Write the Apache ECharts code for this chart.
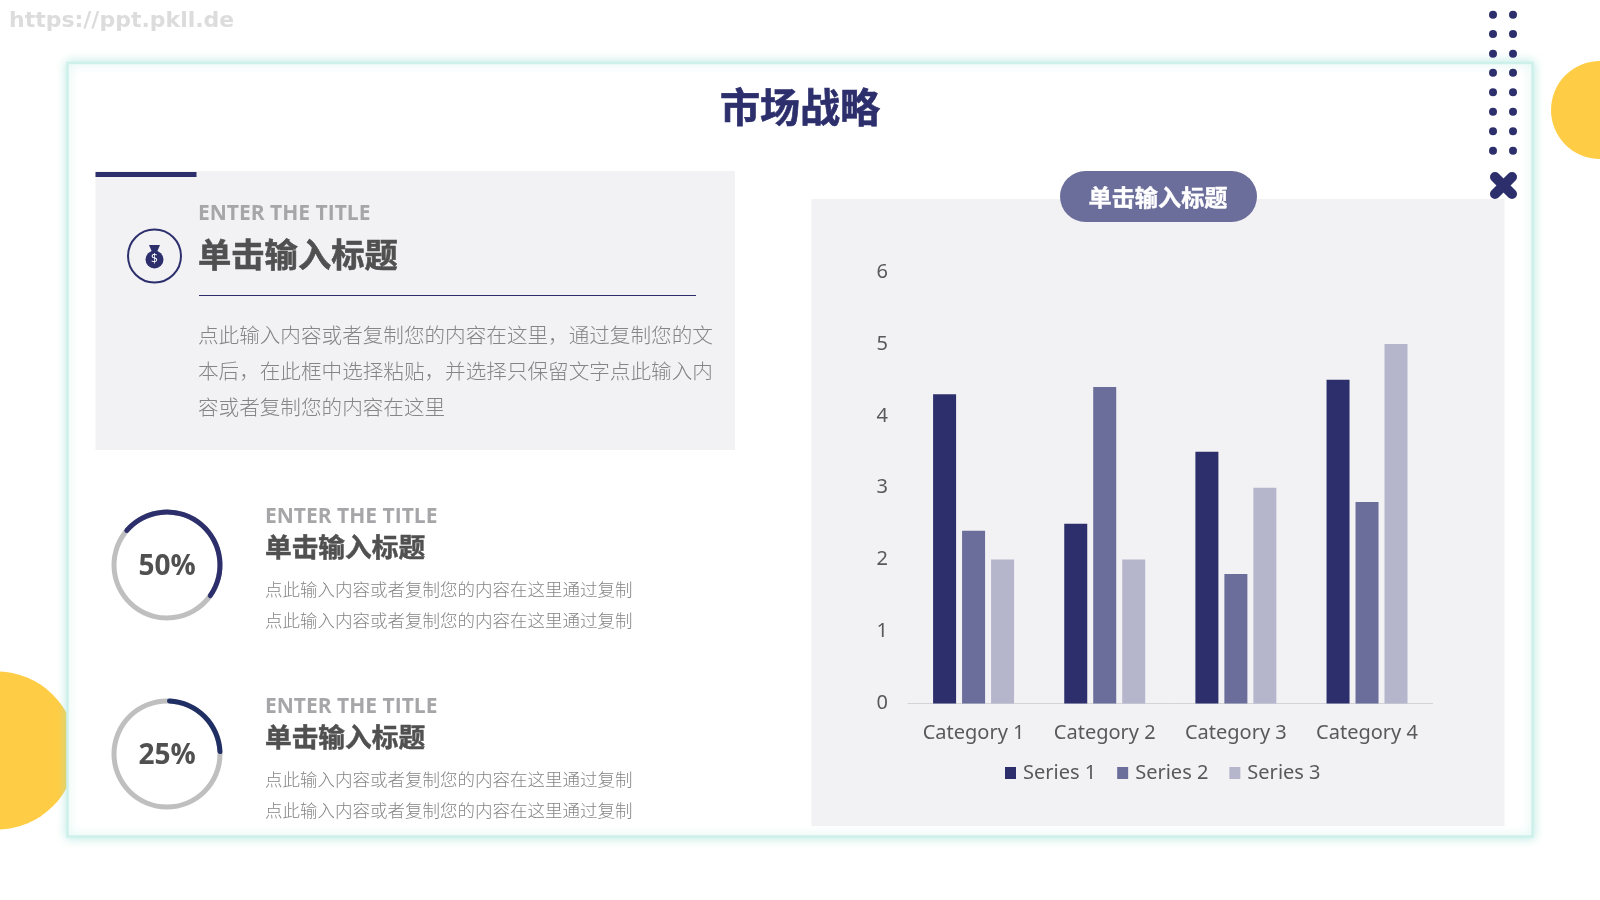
<!DOCTYPE html>
<html>
<head>
<meta charset="utf-8">
<style>html,body{margin:0;padding:0;background:#fff}#main{width:1600px;height:900px}</style>
<script src="https://cdn.jsdelivr.net/npm/echarts@6/dist/echarts.min.js"></script>
</head>
<body>
<div id="main"></div>
<script>
// Bar chart data
const categories = ['Category 1', 'Category 2', 'Category 3', 'Category 4'];
const series1 = [4.3, 2.5, 3.5, 4.5];
const series2 = [2.4, 4.4, 1.8, 2.8];
const series3 = [2, 2, 3, 5];
const seriesNames = ['Series 1', 'Series 2', 'Series 3'];

// Progress rings
const ringValues = [50, 25];
const ringStarts = [142, 90];
const ringColors = ['#2c2f6c', '#1f2f63'];

// Slide copy
const slideTitle = '市场战略';
const headingEn = 'ENTER THE TITLE';
const headingCn = '单击输入标题';
const introLines = [
  '点此输入内容或者复制您的内容在这里，通过复制您的文',
  '本后，在此框中选择粘贴，并选择只保留文字点此输入内',
  '容或者复制您的内容在这里'
];
const rowLine = '点此输入内容或者复制您的内容在这里通过复制';
const siteUrl = 'https://ppt.pkll.de';

const NAVY = '#2c2f6c', MID = '#6b6e9a', PALE = '#b5b6cc', PANEL = '#f2f1f4', YELLOW = '#ffcd45';
const BODY = '#858585', INK = '#505050', SOFT = '#a6a6a9';
const CJK = '"Noto Sans CJK SC","Noto Sans",sans-serif';
const LATIN = '"Open Sans","Noto Sans",sans-serif';

function label(text, x, y, size, color, opts) {
  opts = opts || {};
  const style = {
    text: text, fill: color,
    font: (opts.weight || 'normal') + ' ' + size + 'px ' + (opts.family || CJK),
    textAlign: opts.align || 'left', textVerticalAlign: 'middle'
  };
  // heavier headings get a hairline outline in their own colour
  if (opts.heavy) { style.stroke = color; style.lineWidth = opts.heavy; }
  return { type: 'text', z: 5, x: x, y: y, style: style };
}

const graphics = [
  label(siteUrl, 9, 21.5, 22, '#dcdcdc', { weight: 'bold', family: '"DejaVu Sans",sans-serif' }),
  // yellow discs behind the card
  { type: 'circle', z: 1, shape: { cx: -3, cy: 750.5, r: 79 }, style: { fill: YELLOW } },
  { type: 'circle', z: 1, shape: { cx: 1600, cy: 110, r: 49 }, style: { fill: YELLOW } },
  // white card with a soft teal edge
  { type: 'rect', z: 2, shape: { x: 67.5, y: 63, width: 1465, height: 773.5 },
    style: { fill: '#fff', stroke: '#cdf1ea', lineWidth: 2.5, shadowBlur: 10, shadowColor: 'rgba(150,225,210,0.6)' } },
  label(slideTitle, 800, 107, 40, NAVY, { weight: 'bold', align: 'center', heavy: 0.7 }),
  // intro panel
  { type: 'rect', z: 3, shape: { x: 95.5, y: 171, width: 639.5, height: 279 }, style: { fill: PANEL } },
  { type: 'rect', z: 4, shape: { x: 95.5, y: 172, width: 101, height: 5 }, style: { fill: NAVY } },
  { type: 'circle', z: 4, shape: { cx: 154.5, cy: 256, r: 26.5 }, style: { fill: 'none', stroke: NAVY, lineWidth: 2 } },
  // money bag
  { type: 'circle', z: 4, shape: { cx: 154.5, cy: 259.5, r: 9 }, style: { fill: NAVY } },
  { type: 'polygon', z: 4, shape: { points: [[149, 245], [160, 245], [157, 252], [158, 253], [151, 253], [152, 252]] }, style: { fill: NAVY } },
  label('$', 154.5, 260, 12, '#ffffff', { align: 'center', family: LATIN }),
  label(headingEn, 198, 214, 21, SOFT, { weight: 'bold', family: LATIN }),
  label(headingCn, 198, 254, 33.3, INK, { weight: 'bold', heavy: 0.6 }),
  { type: 'line', z: 4, shape: { x1: 199, y1: 295.5, x2: 696, y2: 295.5 }, style: { stroke: NAVY, lineWidth: 1 } },
  label(introLines[0], 198, 335, 20.6, BODY, { weight: 300 }),
  label(introLines[1], 198, 371, 20.6, BODY, { weight: 300 }),
  label(introLines[2], 198, 407, 20.6, BODY, { weight: 300 }),
  // chart panel and its caption pill
  { type: 'rect', z: 3, shape: { x: 811.5, y: 199, width: 693, height: 627 }, style: { fill: PANEL } },
  { type: 'rect', z: 4, shape: { x: 1060, y: 171, width: 197, height: 51, r: 25.5 }, style: { fill: MID } },
  label(headingCn, 1158, 197, 23.2, '#ffffff', { weight: 'bold', align: 'center', heavy: 0.4 })
];

// Rows beside the rings
[[517, 547, 589, 620], [707, 737, 779, 810]].forEach(function (ys, i) {
  graphics.push(label(headingEn, 265, ys[0], 21, SOFT, { weight: 'bold', family: LATIN }));
  graphics.push(label(headingCn, 265, ys[1], 26.7, INK, { weight: 'bold', heavy: 0.5 }));
  graphics.push(label(rowLine, 265, ys[2], 17.5, BODY, { weight: 300 }));
  graphics.push(label(rowLine, 265, ys[3], 17.5, BODY, { weight: 300 }));
  graphics.push(label(ringValues[i] + '%', 167, i ? 756 : 567, 28, INK, { weight: 'bold', align: 'center', family: LATIN }));
});

// Dot column and cross at the card corner
[14.7, 34, 53.7, 72.7, 92.3, 111.7, 131.3, 150.7].forEach(function (y) {
  [1493, 1513].forEach(function (x) {
    graphics.push({ type: 'circle', z: 6, shape: { cx: x, cy: y, r: 4 }, style: { fill: NAVY } });
  });
});
[[-8.5, -8.5, 8.5, 8.5], [-8.5, 8.5, 8.5, -8.5]].forEach(function (d) {
  graphics.push({
    type: 'line', z: 6,
    shape: { x1: 1503.5 + d[0], y1: 185.5 + d[1], x2: 1503.5 + d[2], y2: 185.5 + d[3] },
    style: { stroke: NAVY, lineWidth: 10, lineCap: 'round' }
  });
});

function barSeries(name, data, color) {
  return { type: 'bar', name: name, data: data, barWidth: 23, barGap: '26%', z: 5, itemStyle: { color: color } };
}

function ringSeries(value, start, color, cy) {
  const common = { type: 'pie', silent: true, center: [167, cy], radius: [50.5, 55.5], label: { show: false }, labelLine: { show: false }, z: 5 };
  return [
    Object.assign({}, common, { startAngle: start, data: [{ value: 100, itemStyle: { color: '#bfbfbf' } }] }),
    Object.assign({}, common, {
      startAngle: start, z: 6, itemStyle: { borderRadius: 3 },
      data: [{ value: value, itemStyle: { color: color } }, { value: 100 - value, itemStyle: { color: 'rgba(0,0,0,0)' } }]
    })
  ];
}

const chart = echarts.init(document.getElementById('main'));
chart.setOption({
  animation: false,
  backgroundColor: '#fff',
  graphic: { elements: graphics },
  grid: { left: 908, top: 272, width: 524.6, height: 431.4, containLabel: false, z: 4 },
  legend: {
    left: 1000, top: 758, itemWidth: 11, itemHeight: 12, itemGap: 21, icon: 'rect', z: 5,
    data: seriesNames,
    textStyle: { fontFamily: '"Noto Sans",sans-serif', fontSize: 20, color: '#595959', padding: [0, 0, 0, 2] }
  },
  xAxis: {
    type: 'category', data: categories, z: 5,
    axisLine: { lineStyle: { color: '#d3d3d8', width: 1 } },
    axisTick: { show: false },
    axisLabel: { interval: 0, hideOverlap: false, margin: 20, fontFamily: '"Noto Sans",sans-serif', fontSize: 20, color: '#595959' }
  },
  yAxis: {
    type: 'value', min: 0, max: 6, interval: 1, z: 5,
    axisLine: { show: false }, axisTick: { show: false }, splitLine: { show: false },
    axisLabel: { margin: 20, padding: [2, 0, 0, 0], fontFamily: '"Noto Sans",sans-serif', fontSize: 20, color: '#595959' }
  },
  series: [
    barSeries(seriesNames[0], series1, NAVY),
    barSeries(seriesNames[1], series2, MID),
    barSeries(seriesNames[2], series3, PALE)
  ].concat(
    ringSeries(ringValues[0], ringStarts[0], ringColors[0], 565),
    ringSeries(ringValues[1], ringStarts[1], ringColors[1], 754)
  )
});
</script>
</body>
</html>
